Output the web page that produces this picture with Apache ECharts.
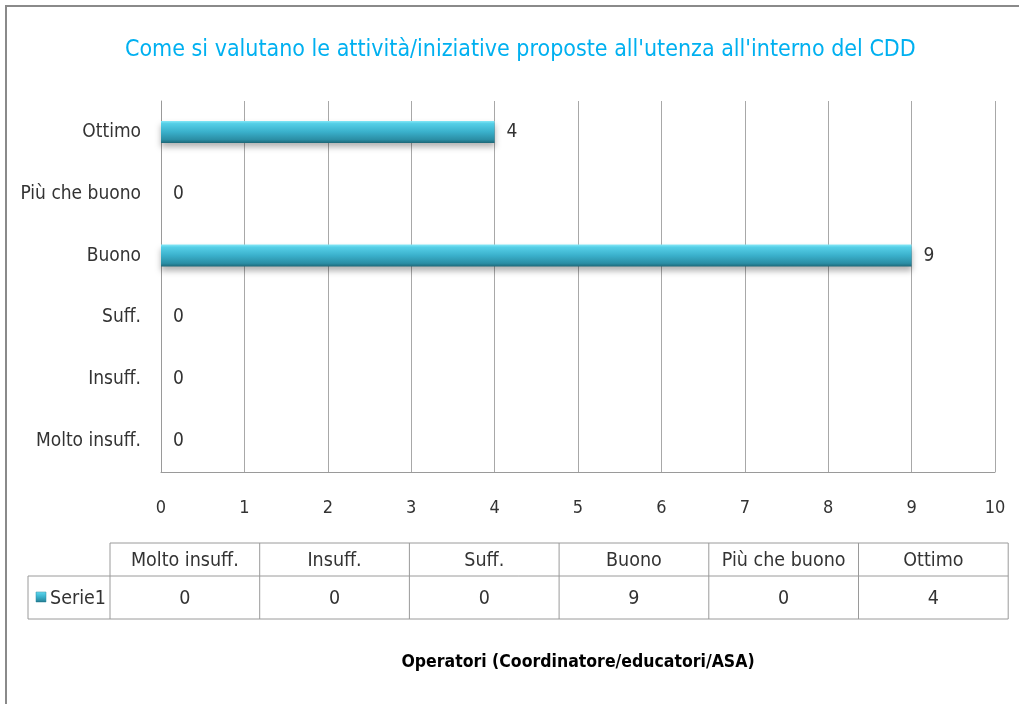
<!DOCTYPE html>
<html>
<head>
    <meta charset="utf-8">
    <title>CDD</title>
    <style>
        html, body { margin: 0; padding: 0; background: #fff; }
        #charts { width: 1019px; height: 704px; }
    </style>
</head>
<body>
<div id="charts"></div>
<script src="https://cdn.jsdelivr.net/npm/echarts@6/dist/echarts.min.js"></script>
<script type="text/javascript">
var categories = ['Molto insuff.', 'Insuff.', 'Suff.', 'Buono', 'Più che buono', 'Ottimo'];
var serie1 = [0, 0, 0, 9, 0, 4];
var seriesName = 'Serie1';
var xTicks = [0, 10, 1]; // min, max, interval

var font = '"Liberation Sans Narrow", "DejaVu Sans Condensed", sans-serif';
var textColor = '#333333';

var barColor = new echarts.graphic.LinearGradient(0, 0, 0, 1, [
    { offset: 0, color: '#86e8f7' },
    { offset: 0.12, color: '#55cfe7' },
    { offset: 0.5, color: '#3ab0cb' },
    { offset: 0.85, color: '#2b8ea5' },
    { offset: 1, color: '#1d6878' }
]);

// tabella dati sotto il grafico
function buildTable() {
    var els = [];
    var x0 = 110, colW = 149.7, yH = 543, hH = 33, hR = 43, xL = 28;
    var line = { stroke: '#9a9a9a', lineWidth: 1 };
    var right = x0 + colW * categories.length;
    var tf = '19.5px ' + font;
    // bordi orizzontali
    els.push({ type: 'line', shape: { x1: x0, y1: yH, x2: right, y2: yH }, style: line });
    els.push({ type: 'line', shape: { x1: xL, y1: yH + hH, x2: right, y2: yH + hH }, style: line });
    els.push({ type: 'line', shape: { x1: xL, y1: yH + hH + hR, x2: right, y2: yH + hH + hR }, style: line });
    els.push({ type: 'line', shape: { x1: xL, y1: yH + hH, x2: xL, y2: yH + hH + hR }, style: line });
    for (var i = 0; i <= categories.length; i++) {
        var x = x0 + colW * i;
        els.push({ type: 'line', shape: { x1: x, y1: yH, x2: x, y2: yH + hH + hR }, style: line });
    }
    for (var j = 0; j < categories.length; j++) {
        var cx = x0 + colW * j + colW / 2;
        els.push({ type: 'text', x: cx, y: yH + hH / 2 + 1, style: { text: categories[j], font: tf, fill: textColor, align: 'center', verticalAlign: 'middle' } });
        els.push({ type: 'text', x: cx, y: yH + hH + hR / 2 + 1, style: { text: String(serie1[j]), font: tf, fill: textColor, align: 'center', verticalAlign: 'middle' } });
    }
    els.push({ type: 'rect', shape: { x: 36, y: yH + hH + 16, width: 10, height: 10 }, style: { fill: barColor, stroke: '#2a8aa0', lineWidth: 0.5 } });
    els.push({ type: 'text', x: 50, y: yH + hH + hR / 2 + 1, style: { text: seriesName, font: tf, fill: textColor, align: 'left', verticalAlign: 'middle' } });
    // cornice
    els.push({ type: 'rect', shape: { x: 6, y: 6, width: 1100, height: 800 }, style: { fill: 'none', stroke: '#8a8a8a', lineWidth: 2 } });
    return els;
}

var myChart = echarts.init(document.getElementById('charts'));

var option = {
    backgroundColor: '#fff',
    animation: false,
    title: {
        text: "Come si valutano le attività/iniziative proposte all'utenza all'interno del CDD",
        left: 120,
        top: 34,
        textStyle: { color: '#00b0f0', fontSize: 23, fontWeight: 'normal', fontFamily: font }
    },
    grid: { left: 161, right: 24, top: 101, bottom: 232 },
    xAxis: {
        type: 'value',
        min: xTicks[0],
        max: xTicks[1],
        interval: xTicks[2],
        name: 'Operatori (Coordinatore/educatori/ASA)',
        nameLocation: 'middle',
        nameGap: 181,
        nameTextStyle: { color: '#000', fontSize: 17.5, fontWeight: 'bold', fontFamily: font },
        axisLine: { show: true, lineStyle: { color: '#9a9a9a' } },
        axisTick: { show: false },
        axisLabel: { color: textColor, fontSize: 18, fontFamily: font, margin: 27 },
        splitLine: { show: true, lineStyle: { color: '#a8a8a8' } }
    },
    yAxis: {
        type: 'category',
        data: categories,
        axisLine: { show: true, lineStyle: { color: '#9a9a9a' } },
        axisTick: { show: false },
        axisLabel: { color: textColor, fontSize: 19, fontFamily: font, margin: 20 }
    },
    series: [{
        name: seriesName,
        type: 'bar',
        data: serie1,
        barWidth: 22,
        itemStyle: {
            color: barColor,
            shadowColor: 'rgba(0,0,0,0.3)',
            shadowBlur: 6,
            shadowOffsetY: 4
        },
        label: {
            show: true,
            position: 'right',
            distance: 12,
            color: textColor,
            fontSize: 19,
            fontFamily: font
        }
    }],
    graphic: buildTable()
};

myChart.setOption(option);
</script>
</body>
</html>
